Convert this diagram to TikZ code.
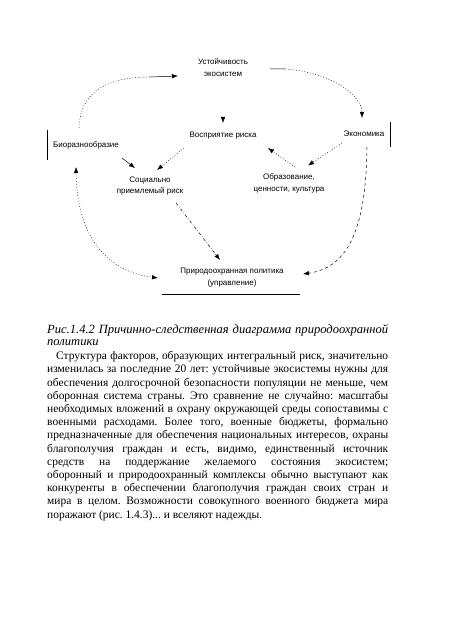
\documentclass[tikz,border=0pt]{standalone}
\usepackage{fontspec}
\setmainfont{Liberation Serif}
\newfontfamily\schemefont{Liberation Sans}
\usetikzlibrary{arrows.meta, positioning, calc}
\frenchspacing

\begin{document}
\begin{tikzpicture}[x=1bp,y=-1bp,>={Latex[length=6bp,width=4.5bp]},
    factor/.style={font=\schemefont\fontsize{8}{11.5}\selectfont,align=center,inner sep=1bp},
    link/.style={->,line width=0.5bp},
    dots/.style={dash pattern=on 0.8bp off 2bp}]

    \path[use as bounding box,fill=white] (0,0) rectangle (450,629);

    \node[factor] (ust) at (223,67.5) {Устойчивость\\экосистем};
    \node[factor] (vosp) at (223,136) {Восприятие риска};
    \node[factor] (econ) at (364,134) {Экономика};
    \node[factor] (bio) at (86,145) {Биоразнообразие};
    \node[factor] (soc) at (150,186) {Социально\\приемлемый риск};
    \node[factor] (obr) at (289,183.5) {Образование,\\ценности, культура};
    \node[factor] (prir) at (232,277.5) {Природоохранная политика\\(управление)};

    % side marks
    \draw[line width=0.5bp] ($(bio)+(-38.5,-15)$) -- ($(bio)+(-38.5,15)$);
    \draw[line width=0.5bp] ($(econ)+(26.7,-12)$) -- ($(econ)+(26.7,13)$);
    \draw[line width=0.5bp] ($(prir)+(-70,16.5)$) -- ($(prir)+(68,16.5)$);

    % top loop
    \coordinate (kl) at (150,77);
    \coordinate (kr) at (285,69);
    \draw[line width=0.5bp,dots] ($(bio)+(-7,-17)$) .. controls (80,90) and (110,77) .. (kl);
    \draw[link] (kl) -- ($(ust)+(-45,8.5)$);
    \draw[line width=0.5bp] ($(ust)+(47,1.5)$) -- (kr);
    \draw[link,dots] (kr) .. controls (330,72) and (362,95) .. ($(econ)+(-2,-16)$);
    \draw[link] ($(ust)+(0,50)$) -- ($(vosp)+(0,-13)$);

    % middle links
    \draw[link] ($(bio)+(36,13)$) -- ($(soc)+(-15,-18)$);
    \draw[link,dots] ($(vosp)+(-39,12)$) -- ($(soc)+(7,-16)$);
    \draw[link,dots] ($(obr)+(6,-16.5)$) -- ($(vosp)+(45,12)$);
    \draw[link,dots] ($(econ)+(-22,9)$) -- ($(obr)+(19,-18)$);

    % down to policy
    \draw[link,dash dot] ($(soc)+(26,17)$) -- ($(prir)+(-12,-17.5)$);
    \draw[link,<->,dots] ($(bio)+(-10,22)$) .. controls (77,240) and (110,272) .. ($(prir)+(-74,0.5)$);
    \draw[link,dashed] ($(econ)+(3,13)$) .. controls (366,235) and (345,268) .. ($(prir)+(71,-3.5)$);

    \node[anchor=north west,inner sep=0pt,text width=341bp,align=justify,
        font=\fontsize{12.6}{12}\selectfont] (caption) at (47,324.6)
        {\strut\textit{Рис.1.4.2 Причинно-следственная диаграмма природоохранной политики}};
    \node[anchor=north west,inner sep=0pt,text width=341bp,align=justify,
        font=\fontsize{11.5}{13.25}\selectfont] (body) at (47,350.2)
        {\strut\hspace*{9bp}Структура факторов, образующих интегральный риск, значительно\linebreak
        изменилась за последние 20 лет: устойчивые экосистемы нужны для\linebreak
        обеспечения долгосрочной безопасности популяции не меньше, чем\linebreak
        оборонная система страны. Это сравнение не случайно: масштабы\linebreak
        необходимых вложений в охрану окружающей среды сопоставимы с\linebreak
        военными расходами. Более того, военные бюджеты, формально\linebreak
        предназначенные для обеспечения национальных интересов, охраны\linebreak
        благополучия граждан и есть, видимо, единственный источник\linebreak
        средств на поддержание желаемого состояния экосистем;\linebreak
        оборонный и природоохранный комплексы обычно выступают как\linebreak
        конкуренты в обеспечении благополучия граждан своих стран и\linebreak
        мира в целом. Возможности совокупного военного бюджета мира\linebreak
        поражают (рис. 1.4.3)... и вселяют надежды.};
\end{tikzpicture}
\end{document}
